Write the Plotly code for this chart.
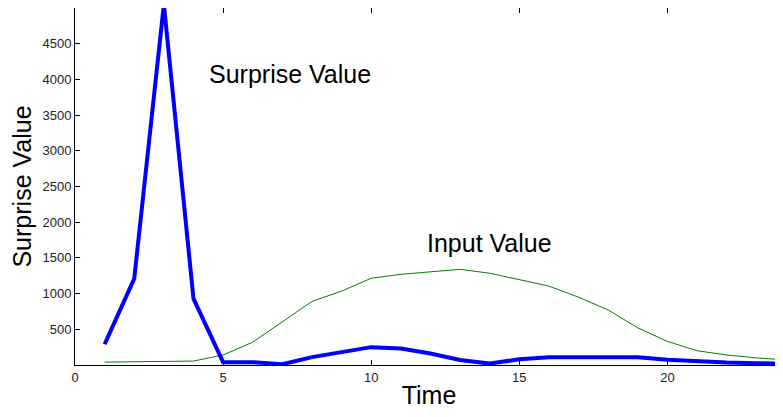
import plotly.graph_objects as go

time = list(range(1, 25))
surprise = [290, 1210, 5050, 930, 40, 40, 10, 110, 180, 250, 230, 160, 70, 20,
            80, 110, 110, 110, 110, 75, 50, 35, 25, 20]
input_value = [40, 40, 50, 55, 140, 320, 610, 890, 1035, 1215, 1270, 1300, 1340, 1285,
               1190, 1105, 950, 770, 520, 330, 200, 140, 100, 70]
y_ticks = [500, 1000, 1500, 2000, 2500, 3000, 3500, 4000, 4500]
x_ticks = [0, 5, 10, 15, 20]

FONT = "Liberation Sans, Arial, Helvetica, sans-serif"

fig = go.Figure()
fig.add_trace(go.Scatter(x=time, y=input_value, mode="lines",
                         line=dict(color="#008000", width=1), showlegend=False))
fig.add_trace(go.Scatter(x=time, y=surprise, mode="lines",
                         line=dict(color="#0000ff", width=4), showlegend=False))
fig.add_trace(go.Scatter(x=[None], y=[None], yaxis="y2", showlegend=False,
                         hoverinfo="skip"))

fig.add_annotation(x=4.44, y=4080, text="Surprise Value", showarrow=False,
                   xanchor="left", yanchor="middle",
                   font=dict(family=FONT, size=25, color="black"))
fig.add_annotation(x=11.8, y=1710, text="Input Value", showarrow=False,
                   xanchor="left", yanchor="middle",
                   font=dict(family=FONT, size=25, color="black"))

fig.update_layout(
    width=775, height=409,
    margin=dict(l=67, r=0, t=0, b=52, autoexpand=False),
    paper_bgcolor="white", plot_bgcolor="white",
    font=dict(family=FONT, color="#222"),
    xaxis=dict(range=[0, 23.9], tickvals=x_ticks, ticks="inside", ticklen=5,
               tickcolor="black", showline=True, linecolor="black", linewidth=1,
               mirror="ticks", showgrid=False, zeroline=False, automargin=False,
               tickfont=dict(size=13, color="#222"),
               title=dict(text="Time", font=dict(size=25, color="black"), standoff=2)),
    yaxis=dict(range=[0, 5000], tickvals=y_ticks, ticks="inside", ticklen=5,
               tickcolor="black", showline=True, linecolor="black", linewidth=1,
               showgrid=False, zeroline=False, automargin=False,
               tickfont=dict(size=13, color="#222"),
               title=dict(text="Surprise Value", font=dict(size=25, color="black"),
                          standoff=4)),
    yaxis2=dict(range=[0, 5000], tickvals=y_ticks, overlaying="y", side="right",
                ticks="inside", ticklen=5, tickcolor="black", showline=False,
                showticklabels=False, showgrid=False, zeroline=False,
                automargin=False),
)

fig.write_html("out.html")
